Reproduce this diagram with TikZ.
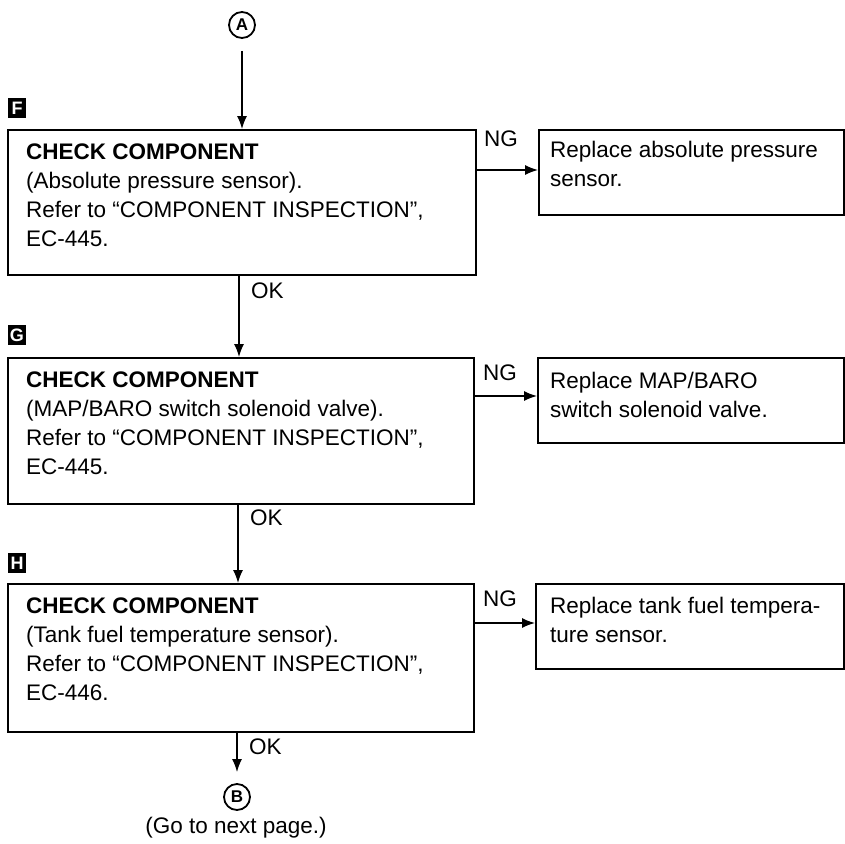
\documentclass[tikz,border=0pt]{standalone}
\usepackage{fontspec}
\setmainfont{Liberation Sans}
\usetikzlibrary{arrows.meta,calc}
\begin{document}
\begin{tikzpicture}[x=1pt,y=-1pt,
  box/.style={draw, line width=1.7pt, rectangle, inner sep=0pt, anchor=north west},
  txt/.style={inner sep=0pt, anchor=north west, align=left, font=\fontsize{22.5}{29}\selectfont},
  lbl/.style={inner sep=0pt, font=\fontsize{22.5}{29}\selectfont},
  tag/.style={fill=black, text=white, inner sep=0pt, minimum width=18pt, minimum height=20pt, font=\bfseries\fontsize{18}{18}\selectfont},
  circ/.style={circle, draw, line width=1.8pt, minimum size=26pt, inner sep=0pt, font=\bfseries\fontsize{17}{17}\selectfont},
  arr/.style={-{Latex[length=13pt,width=10pt]}, line width=1.4pt}]
\useasboundingbox (0,0) rectangle (845,843);

% connector circles
\node[circ] (A) at (242,25) {A};
\node[circ] (B) at (237,797) {B};
\node[lbl] (go) at (236,828) {(Go to next page.)};

% step tags
\node[tag] (tF) at (17,108) {F};
\node[tag] (tG) at (17,335) {G};
\node[tag] (tH) at (17,563) {H};

% check boxes
\node[box, minimum width=468pt, minimum height=145pt] (F) at (7,129) {};
\node[box, minimum width=466pt, minimum height=146pt] (G) at (7,357) {};
\node[box, minimum width=466pt, minimum height=148pt] (H) at (7,583) {};

\node[txt] (Ft) at (26,144) {\textbf{CHECK COMPONENT}\\(Absolute pressure sensor).\\Refer to “COMPONENT INSPECTION”,\\EC-445.};
\node[txt] (Gt) at (26,372) {\textbf{CHECK COMPONENT}\\(MAP/BARO switch solenoid valve).\\Refer to “COMPONENT INSPECTION”,\\EC-445.};
\node[txt] (Ht) at (26,598) {\textbf{CHECK COMPONENT}\\(Tank fuel temperature sensor).\\Refer to “COMPONENT INSPECTION”,\\EC-446.};

% result boxes
\node[box, minimum width=305pt, minimum height=85pt] (R1) at (538,129) {};
\node[box, minimum width=306pt, minimum height=85pt] (R2) at (537,357) {};
\node[box, minimum width=308pt, minimum height=85pt] (R3) at (535,583) {};

\node[txt] (R1t) at (550,141) {Replace absolute pressure\\sensor.};
\node[txt] (R2t) at (550,372) {Replace MAP/BARO\\switch solenoid valve.};
\node[txt] (R3t) at (550,597) {Replace tank fuel tempera-\\ture sensor.};

% vertical flow
\coordinate (x1) at (239,0);
\coordinate (x2) at (238,0);
\draw[arr, shorten <=12pt] (A) -- (A |- F.north);
\draw[arr] (F.south -| x1) -- (G.north -| x1);
\draw[arr] (G.south -| x2) -- (H.north -| x2);
\draw[arr, shorten >=11pt] (H.south -| B) -- (B);

\node[lbl, anchor=west] (ok1) at (251,291) {OK};
\node[lbl, anchor=west] (ok2) at (250,518) {OK};
\node[lbl, anchor=west] (ok3) at (249,747) {OK};

% NG branches
\coordinate (n1) at (0,170);
\coordinate (n2) at (0,396);
\coordinate (n3) at (0,623);
\draw[arr] (F.east |- n1) -- (R1.west |- n1);
\draw[arr] (G.east |- n2) -- (R2.west |- n2);
\draw[arr] (H.east |- n3) -- (R3.west |- n3);

\node[lbl, anchor=west] (ng1) at (484,139) {NG};
\node[lbl, anchor=west] (ng2) at (483,373) {NG};
\node[lbl, anchor=west] (ng3) at (483,599) {NG};
\end{tikzpicture}
\end{document}
